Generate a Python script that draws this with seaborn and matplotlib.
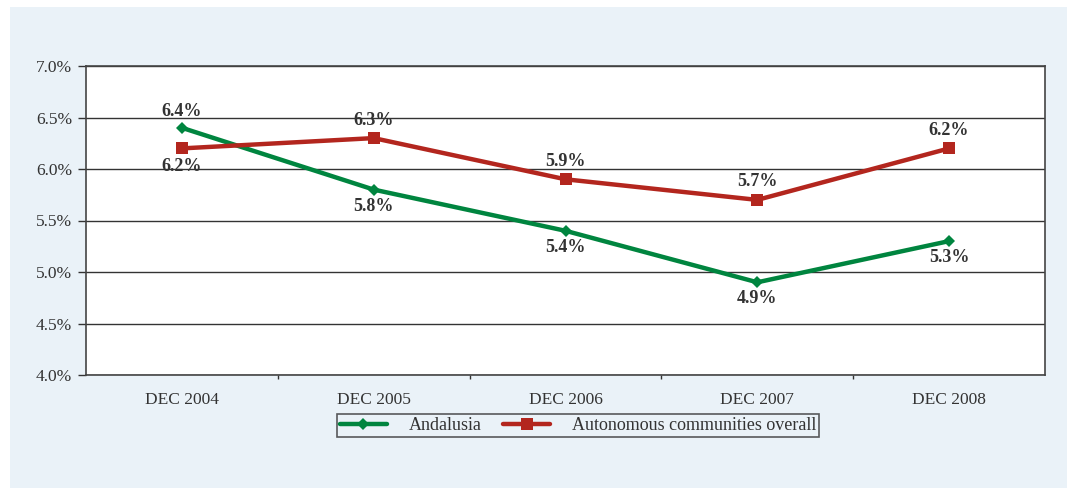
import matplotlib
matplotlib.use("Agg")
import matplotlib.pyplot as plt
import seaborn as sns
import pandas as pd
from matplotlib.patches import Rectangle

categories = ["DEC 2004", "DEC 2005", "DEC 2006", "DEC 2007", "DEC 2008"]
andalusia = [6.4, 5.8, 5.4, 4.9, 5.3]
overall = [6.2, 6.3, 5.9, 5.7, 6.2]
yticks = [4.0, 4.5, 5.0, 5.5, 6.0, 6.5, 7.0]
series_names = ["Andalusia", "Autonomous communities overall"]

sns.set_style("white")
plt.rcParams['font.family'] = ['Liberation Serif', 'DejaVu Serif']

pos = list(range(len(categories)))
df = pd.DataFrame({
    "x": pos * 2,
    "value": andalusia + overall,
    "series": [series_names[0]] * len(pos) + [series_names[1]] * len(pos),
})

fig = plt.figure(figsize=(10.67, 4.88), dpi=100)
fig.patch.set_facecolor("white")
bg = Rectangle((10 / 1067, 0), 1 - 10 / 1067, 1 - 7 / 488, transform=fig.transFigure,
               facecolor="#EAF2F8", edgecolor="none", zorder=-10)
fig.patches.append(bg)

ax = fig.add_axes([86 / 1067, 1 - 375 / 488, (1045 - 86) / 1067, (375 - 66) / 488])
ax.set_facecolor("white")

green = "#00853F"
red = "#B3261E"
sns.lineplot(data=df, x="x", y="value", hue="series", style="series",
             palette={series_names[0]: green, series_names[1]: red},
             markers={series_names[0]: "D", series_names[1]: "s"},
             dashes=False, linewidth=3.2, markersize=7, markeredgewidth=0,
             ax=ax, zorder=3)
for line in ax.get_lines():
    if line.get_marker() == "s":
        line.set_markersize(9)
    elif line.get_marker() == "D":
        line.set_markersize(6)

ax.set_xlim(-0.5, len(categories) - 0.5)
ax.set_ylim(4.0, 7.0)
ax.set_yticks(yticks)
ax.set_yticklabels([f"{v:.1f}%" for v in yticks], fontsize=12.5, color="#333333")
ax.set_xticks(pos)
ax.set_xticklabels(categories, fontsize=12.5, color="#333333")
ax.set_xticks([p + 0.5 for p in pos[:-1]], minor=True)
ax.tick_params(axis="x", which="major", length=0, pad=12, bottom=True)
ax.tick_params(axis="x", which="minor", length=3, width=1, direction="out", color="#333333", bottom=True)
ax.tick_params(axis="y", which="major", length=6, width=1, direction="out", color="#333333",
               pad=4, left=True)
ax.yaxis.grid(True, color="#333333", linewidth=1.0)
ax.set_axisbelow(True)
for s in ax.spines.values():
    s.set_color("#444444")
    s.set_linewidth(1.2)
ax.set_xlabel("")
ax.set_ylabel("")

a_off = [1, -1, -1, -1, -1]
o_off = [-1, 1, 1, 1, 1]
for i, v in enumerate(andalusia):
    ax.annotate(f"{v:.1f}%", (i, v), xytext=(0, 12 * a_off[i]), textcoords="offset points",
                ha="center", va="center", fontsize=13, fontweight="bold", color="#333333")
for i, v in enumerate(overall):
    ax.annotate(f"{v:.1f}%", (i, v), xytext=(0, 13 * o_off[i]), textcoords="offset points",
                ha="center", va="center", fontsize=13, fontweight="bold", color="#333333")

handles, labels = ax.get_legend_handles_labels()
if ax.legend_:
    ax.legend_.remove()
leg = ax.legend(handles, labels, loc="upper center", bbox_to_anchor=(0.513, -0.115), ncol=2,
                frameon=True, fancybox=False, edgecolor="#333333", facecolor="#EAF2F8",
                fontsize=13, handlelength=2.6, columnspacing=1.2, borderpad=0.15,
                handletextpad=1.2, borderaxespad=0.2)
leg.get_frame().set_linewidth(1.2)
for t in leg.get_texts():
    t.set_color("#333333")

fig.savefig("out.png", dpi=100)
